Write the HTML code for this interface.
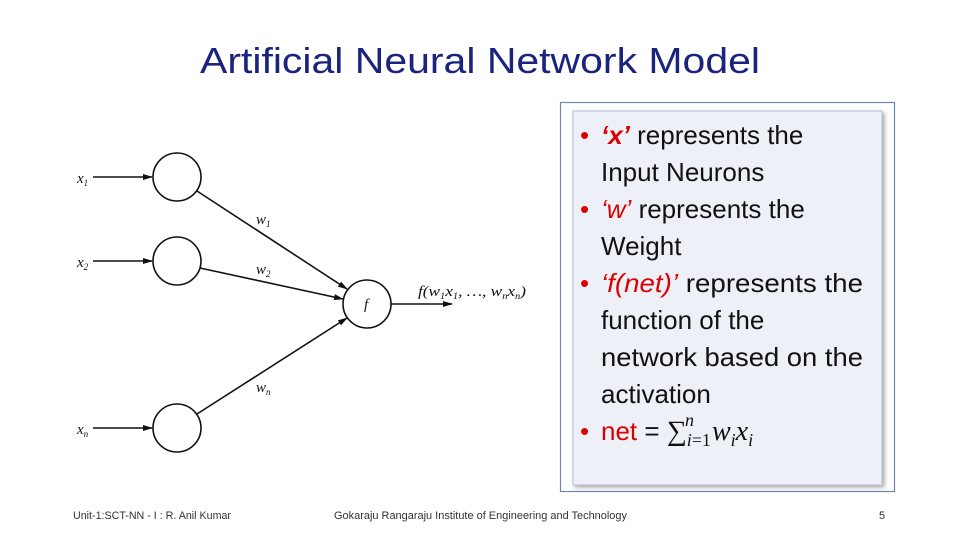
<!DOCTYPE html>
<html><head><meta charset="utf-8"><style>
html,body{margin:0;padding:0;background:#fff;}
svg{display:block;}
.ser{font-family:"Liberation Serif",serif;}
.sans{font-family:"Liberation Sans",sans-serif;}
</style></head><body>
<svg width="960" height="540" viewBox="0 0 960 540" xmlns="http://www.w3.org/2000/svg" class="sans">
<defs>
<marker id="ah" markerWidth="10" markerHeight="8" refX="9" refY="4" orient="auto" markerUnits="userSpaceOnUse">
<path d="M0,1 L10,4 L0,7 z" fill="#111"/></marker>
<filter id="sh" x="-5%" y="-5%" width="110%" height="110%"><feDropShadow dx="2" dy="2" stdDeviation="2" flood-color="#000" flood-opacity="0.35"/></filter>
</defs>
<text x="480" y="73" text-anchor="middle" font-size="36" fill="#1a237e" textLength="560" lengthAdjust="spacingAndGlyphs">Artificial Neural Network Model</text>

<g stroke="#111" stroke-width="1.6" fill="none">
<circle cx="177" cy="177" r="24"/>
<circle cx="177" cy="261" r="24"/>
<circle cx="177" cy="428" r="24"/>
<circle cx="367" cy="304" r="24"/>
<line x1="93" y1="177" x2="152" y2="177" marker-end="url(#ah)"/>
<line x1="93" y1="261" x2="152" y2="261" marker-end="url(#ah)"/>
<line x1="93" y1="428" x2="152" y2="428" marker-end="url(#ah)"/>
<line x1="197" y1="191" x2="347" y2="289" marker-end="url(#ah)"/>
<line x1="200" y1="268" x2="343" y2="299" marker-end="url(#ah)"/>
<line x1="197" y1="414" x2="347" y2="318" marker-end="url(#ah)"/>
<line x1="391" y1="304" x2="452" y2="304" marker-end="url(#ah)"/>
</g>
<g class="ser" font-style="italic" fill="#111" font-size="15">
<text x="77" y="183">x<tspan font-size="9" dy="3">1</tspan></text>
<text x="77" y="267">x<tspan font-size="9" dy="3">2</tspan></text>
<text x="77" y="434">x<tspan font-size="9" dy="3">n</tspan></text>
<text x="256" y="224">w<tspan font-size="9" dy="3">1</tspan></text>
<text x="256" y="274">w<tspan font-size="9" dy="3">2</tspan></text>
<text x="256" y="392">w<tspan font-size="9" dy="3">n</tspan></text>
<text x="364" y="309">f</text>
<text x="418" y="296" textLength="108" lengthAdjust="spacingAndGlyphs">f(w<tspan font-size="9" dy="3">1</tspan><tspan dy="-3">x</tspan><tspan font-size="9" dy="3">1</tspan><tspan dy="-3">, …, w</tspan><tspan font-size="9" dy="3">n</tspan><tspan dy="-3">x</tspan><tspan font-size="9" dy="3">n</tspan><tspan dy="-3">)</tspan></text>
</g>

<rect x="560.5" y="102.5" width="334" height="389" fill="#fff" stroke="#6f88b0" stroke-width="1.2"/>
<rect x="573" y="111" width="309" height="374" fill="#eef0f8" stroke="#b8bed0" stroke-width="1" filter="url(#sh)"/>
<g font-size="26" fill="#111">
<text x="580" y="144" fill="#d00">•</text>
<text x="601" y="144"><tspan fill="#d00" font-style="italic" font-weight="bold">‘x’</tspan> represents the</text>
<text x="601" y="181">Input Neurons</text>
<text x="580" y="218" fill="#d00">•</text>
<text x="601" y="218"><tspan fill="#d00" font-style="italic">‘w’</tspan> represents the</text>
<text x="601" y="255">Weight</text>
<text x="580" y="292" fill="#d00">•</text>
<text x="601" y="292" textLength="262" lengthAdjust="spacingAndGlyphs"><tspan fill="#d00" font-style="italic">‘f(net)’</tspan> represents the</text>
<text x="601" y="329">function of the</text>
<text x="601" y="366" textLength="262" lengthAdjust="spacingAndGlyphs">network based on the</text>
<text x="601" y="403">activation</text>
<text x="580" y="440" fill="#d00">•</text>
<text x="601" y="440"><tspan fill="#d00">net</tspan> = <tspan class="ser" font-size="28">∑</tspan><tspan class="ser" font-style="italic" font-size="18" dy="6">i</tspan><tspan class="ser" font-size="18">=1</tspan><tspan class="ser" font-style="italic" font-size="18" dx="-26" dy="-20">n</tspan><tspan class="ser" font-style="italic" font-size="28" dx="18" dy="14">w</tspan><tspan class="ser" font-style="italic" font-size="18" dy="6">i</tspan><tspan class="ser" font-style="italic" font-size="28" dy="-6">x</tspan><tspan class="ser" font-style="italic" font-size="18" dy="6">i</tspan></text>
</g>

<g font-size="11" fill="#333">
<text x="73" y="519" textLength="158" lengthAdjust="spacingAndGlyphs">Unit-1:SCT-NN - I : R. Anil Kumar</text>
<text x="334" y="519" textLength="293" lengthAdjust="spacingAndGlyphs">Gokaraju Rangaraju Institute of Engineering and Technology</text>
<text x="879" y="519">5</text>
</g>
</svg>
</body></html>
